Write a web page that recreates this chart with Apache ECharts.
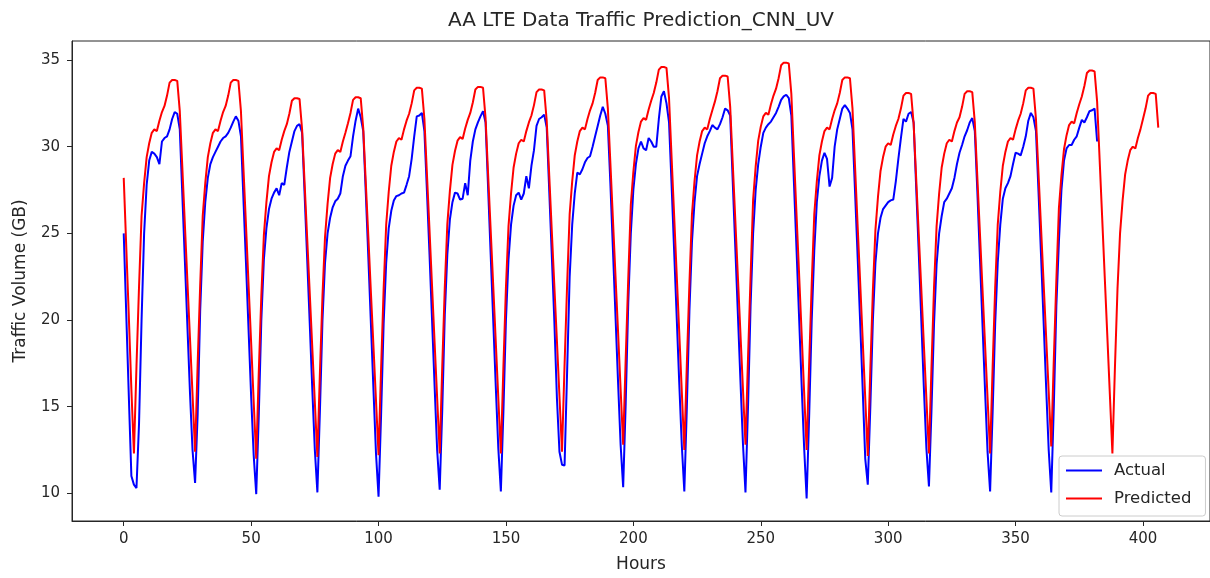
<!DOCTYPE html>
<html>
<head>
<meta charset="utf-8">
<title>AA LTE Data Traffic Prediction_CNN_UV</title>
<script src="https://cdn.jsdelivr.net/npm/echarts@6/dist/echarts.min.js"></script>
<style>
  html, body { margin: 0; padding: 0; background: #fff; }
  #chart { width: 1210px; height: 578px; }
</style>
</head>
<body>
<div id="chart"></div>
<script>
// hourly traffic (GB); index = hour
var actual = [
  25.0, 20.3, 15.6, 11.0,
  10.5, 10.3, 14.0, 20.0, 25.0, 27.8, 29.2, 29.7, 29.6, 29.4, 29.0, 30.3, 30.5, 30.6, 31.0, 31.6, 32.0, 31.9, 31.0, 27.2, 23.4, 19.6, 15.8, 12.5,
  10.6, 14.5, 20.5, 24.5, 26.8, 28.2, 29.0, 29.4, 29.7, 30.0, 30.3, 30.5, 30.6, 30.8, 31.1, 31.45, 31.75, 31.5, 30.6, 26.9, 23.2, 19.4, 15.6, 12.2,
  9.95, 14.5, 20.0, 23.5, 25.3, 26.4, 27.0, 27.35, 27.6, 27.2, 27.9, 27.8, 28.8, 29.7, 30.3, 30.9, 31.2, 31.3, 30.8, 27.2, 23.5, 19.8, 16.0, 12.5,
  10.05, 14.8, 20.0, 23.3, 25.0, 25.9, 26.5, 26.85, 27.0, 27.3, 28.3, 28.9, 29.2, 29.45, 30.6, 31.5, 32.2, 31.7, 30.9, 27.3, 23.6, 19.8, 16.0, 12.3,
  9.8, 14.5, 19.8, 23.3, 25.3, 26.3, 26.9, 27.15, 27.2, 27.3, 27.35, 27.8, 28.3, 29.3, 30.6, 31.75, 31.8, 31.95, 30.9, 27.4, 23.8, 20.0, 16.2, 12.5,
  10.2, 14.8, 20.3, 23.8, 25.8, 26.8, 27.35, 27.3, 26.95, 27.0, 27.9, 27.2, 29.2, 30.3, 31.0, 31.4, 31.75, 32.05, 31.4, 27.6, 23.8, 20.0, 16.2, 12.6,
  10.1, 14.7, 20.0, 23.5, 25.5, 26.6, 27.2, 27.35, 26.95, 27.3, 28.3, 27.6, 28.9, 29.8, 31.2, 31.6, 31.7, 31.85, 31.1, 27.4, 23.7, 19.9, 15.5, 12.4,
  11.65, 11.6, 17.0, 22.5, 25.5, 27.3, 28.5, 28.4, 28.7, 29.1, 29.35, 29.45, 30.0, 30.6, 31.2, 31.8, 32.3, 31.9, 31.2, 27.8, 24.0, 20.2, 16.4, 12.8,
  10.35, 15.2, 21.0, 25.0, 27.5, 29.0, 29.9, 30.3, 29.9, 29.8, 30.5, 30.3, 30.0, 30.0, 31.6, 32.9, 33.2, 32.5, 31.4, 27.8, 24.0, 20.2, 16.4, 12.8,
  10.1, 15.0, 20.5, 24.5, 26.8, 28.3, 29.0, 29.6, 30.2, 30.6, 30.9, 31.25, 31.1, 31.0, 31.3, 31.7, 32.2, 32.1, 31.8, 28.0, 24.2, 20.4, 16.6, 12.9,
  10.05, 15.0, 20.8, 25.0, 27.5, 29.0, 30.0, 30.8, 31.1, 31.3, 31.45, 31.7, 31.95, 32.3, 32.7, 32.9, 33.0, 32.8, 31.8, 28.0, 24.2, 20.3, 16.4, 12.7,
  9.7, 14.5, 20.0, 24.0, 26.8, 28.3, 29.2, 29.65, 29.3, 27.7, 28.2, 30.0, 31.0, 31.6, 32.2, 32.4, 32.2, 31.95, 31.0, 27.4, 23.7, 19.9, 16.0, 12.0,
  10.5, 15.0, 20.0, 23.3, 25.0, 25.9, 26.4, 26.6, 26.8, 26.9, 26.95, 28.0, 29.3, 30.5, 31.6, 31.45, 31.9, 32.0, 31.4, 27.6, 23.9, 20.0, 16.1, 12.6,
  10.4, 14.8, 19.8, 23.2, 25.0, 26.0, 26.8, 27.0, 27.3, 27.6, 28.2, 29.0, 29.65, 30.1, 30.6, 30.95, 31.4, 31.65, 30.9, 27.4, 23.6, 19.8, 16.0, 12.4,
  10.1, 14.7, 19.8, 23.3, 25.5, 27.0, 27.6, 27.9, 28.3, 29.0, 29.65, 29.6, 29.5, 30.0, 30.6, 31.5, 31.95, 31.7, 30.9, 27.4, 23.7, 19.9, 16.1, 12.5,
  10.05, 15.0, 20.8, 24.5, 27.5, 29.2, 29.9, 30.1, 30.1, 30.4, 30.6, 31.1, 31.55, 31.4, 31.7, 32.05, 32.1, 32.2, 30.3
];

var predicted = [
  28.2, 24.2, 20.2, 16.0,
  12.3, 17.3, 21.9, 26.0, 27.9, 29.4, 30.2, 30.8, 31.0, 30.9, 31.5, 32.0, 32.35, 32.95, 33.7, 33.85, 33.85, 33.8, 32.05, 28.8, 25.5, 22.2, 18.95, 15.7,
  12.4, 17.4, 22.0, 26.0, 27.9, 29.4, 30.2, 30.8, 31.0, 30.9, 31.5, 32.0, 32.35, 32.95, 33.7, 33.85, 33.85, 33.8, 32.05, 28.7, 25.4, 22.0, 18.7, 15.3,
  12.0, 17.0, 21.4, 24.9, 26.8, 28.3, 29.1, 29.7, 29.9, 29.8, 30.4, 30.9, 31.3, 31.9, 32.65, 32.8, 32.8, 32.75, 31.0, 27.85, 24.7, 21.55, 18.4, 15.25,
  12.1, 17.0, 21.4, 24.8, 26.7, 28.2, 29.0, 29.6, 29.8, 29.7, 30.3, 30.8, 31.35, 31.95, 32.7, 32.85, 32.85, 32.8, 31.05, 27.9, 24.8, 21.6, 18.5, 15.35,
  12.2, 17.2, 21.8, 25.5, 27.4, 28.9, 29.7, 30.3, 30.5, 30.4, 31.0, 31.5, 31.9, 32.5, 33.25, 33.4, 33.4, 33.35, 31.6, 28.4, 25.2, 21.95, 18.7, 15.5,
  12.3, 17.3, 21.9, 25.55, 27.45, 28.95, 29.75, 30.35, 30.55, 30.45, 31.05, 31.55, 31.95, 32.55, 33.3, 33.45, 33.45, 33.4, 31.65, 28.4, 25.2, 22.0, 18.75, 15.5,
  12.3, 17.3, 21.9, 25.4, 27.3, 28.8, 29.6, 30.2, 30.4, 30.3, 30.9, 31.4, 31.8, 32.4, 33.15, 33.3, 33.3, 33.25, 31.5, 28.3, 25.1, 21.95, 18.8, 15.6,
  12.4, 17.4, 22.0, 26.1, 28.0, 29.5, 30.3, 30.9, 31.1, 31.0, 31.6, 32.1, 32.5, 33.1, 33.85, 34.0, 34.0, 33.95, 32.2, 29.0, 25.75, 22.5, 19.3, 16.0,
  12.8, 17.8, 22.4, 26.65, 28.55, 30.05, 30.85, 31.45, 31.65, 31.55, 32.15, 32.65, 33.1, 33.7, 34.45, 34.6, 34.6, 34.55, 32.8, 29.4, 26.05, 22.65, 19.3, 15.9,
  12.5, 17.5, 22.1, 26.1, 28.0, 29.5, 30.3, 30.9, 31.1, 31.0, 31.6, 32.1, 32.6, 33.2, 33.95, 34.1, 34.1, 34.05, 32.3, 29.05, 25.8, 22.55, 19.3, 16.05,
  12.8, 17.8, 22.5, 26.95, 28.85, 30.35, 31.15, 31.75, 31.95, 31.85, 32.45, 32.95, 33.35, 33.95, 34.7, 34.85, 34.85, 34.8, 33.05, 29.6, 26.2, 22.8, 19.35, 15.9,
  12.5, 17.5, 22.1, 26.1, 28.0, 29.5, 30.3, 30.9, 31.1, 31.0, 31.6, 32.1, 32.5, 33.1, 33.85, 34.0, 34.0, 33.95, 32.2, 28.85, 25.5, 22.2, 18.85, 15.5,
  12.15, 17.15, 21.7, 25.2, 27.1, 28.6, 29.4, 30.0, 30.2, 30.1, 30.7, 31.2, 31.6, 32.2, 32.95, 33.1, 33.1, 33.05, 31.3, 28.15, 24.95, 21.8, 18.6, 15.45,
  12.3, 17.3, 21.9, 25.4, 27.3, 28.8, 29.6, 30.2, 30.4, 30.3, 30.9, 31.4, 31.7, 32.3, 33.05, 33.2, 33.2, 33.15, 31.4, 28.2, 25.05, 21.85, 18.65, 15.5,
  12.3, 17.3, 21.9, 25.5, 27.4, 28.9, 29.7, 30.3, 30.5, 30.4, 31.0, 31.5, 31.9, 32.5, 33.25, 33.4, 33.4, 33.35, 31.6, 28.45, 25.3, 22.15, 19.0, 15.85,
  12.7, 17.7, 22.3, 26.45, 28.35, 29.85, 30.65, 31.25, 31.45, 31.35, 31.95, 32.45, 32.9, 33.5, 34.25, 34.4, 34.4, 34.35, 32.6, 29.2, 25.85, 22.45, 19.1, 15.7,
  12.3, 17.3, 21.8, 25.0, 26.9, 28.4, 29.2, 29.8, 30.0, 29.9, 30.5, 31.0, 31.6, 32.2, 32.95, 33.1, 33.1, 33.05, 31.1
];

var xTicks = [0, 50, 100, 150, 200, 250, 300, 350, 400];
var yTicks = [10, 15, 20, 25, 30, 35];

var chart = echarts.init(document.getElementById('chart'));
var font = 'DejaVu Sans';
var ink = '#262626';

function toPoints(arr) {
    return arr.map(function (v, i) { return [i, v]; });
}

var option = {
    animation: false,
    backgroundColor: '#fff',
    title: {
        text: 'AA LTE Data Traffic Prediction_CNN_UV',
        left: 641,
        top: 11,
        padding: 0,
        textAlign: 'center',
        textStyle: { fontFamily: font, fontSize: 20, fontWeight: 'normal', color: ink }
    },
    legend: {
        orient: 'vertical',
        left: 1059,
        top: 456,
        padding: [6, 14, 9, 6],
        itemWidth: 36,
        itemHeight: 16,
        itemGap: 11,
        borderColor: '#cccccc',
        borderWidth: 1,
        borderRadius: 3,
        backgroundColor: 'rgba(255,255,255,0.8)',
        itemStyle: { opacity: 0 },
        textStyle: { fontFamily: font, fontSize: 16.5, color: ink, padding: [0, 0, 0, 7] },
        data: ['Actual', 'Predicted']
    },
    grid: {
        left: 72,
        top: 41,
        width: 1142,
        height: 483,
        show: true,
        borderColor: ink,
        borderWidth: 1
    },
    xAxis: {
        type: 'value',
        min: -20.3,
        max: 426.3,
        name: 'Hours',
        nameLocation: 'middle',
        nameGap: 35,
        nameTextStyle: { fontFamily: font, fontSize: 17, color: ink },
        axisLine: { show: true, onZero: false, lineStyle: { color: ink, width: 1 } },
        axisTick: { show: true, length: 5, customValues: xTicks, lineStyle: { color: ink } },
        axisLabel: { customValues: xTicks, margin: 11, fontFamily: font, fontSize: 15, color: ink },
        splitLine: { show: false }
    },
    yAxis: {
        type: 'value',
        min: 8.4,
        max: 36.1,
        name: 'Traffic Volume (GB)',
        nameLocation: 'middle',
        nameGap: 43,
        nameTextStyle: { fontFamily: font, fontSize: 17, color: ink },
        axisLine: { show: true, onZero: false, lineStyle: { color: ink, width: 1 } },
        axisTick: { show: true, length: 5, customValues: yTicks, lineStyle: { color: ink } },
        axisLabel: { customValues: yTicks, margin: 12, fontFamily: font, fontSize: 15, color: ink },
        splitLine: { show: false }
    },
    series: [
        {
            name: 'Actual',
            type: 'line',
            data: toPoints(actual),
            symbol: 'none',
            lineStyle: { color: '#0000ff', width: 2 },
            itemStyle: { color: '#0000ff' }
        },
        {
            name: 'Predicted',
            type: 'line',
            data: toPoints(predicted),
            symbol: 'none',
            lineStyle: { color: '#ff0000', width: 2 },
            itemStyle: { color: '#ff0000' }
        }
    ]
};

chart.setOption(option);
</script>
</body>
</html>
